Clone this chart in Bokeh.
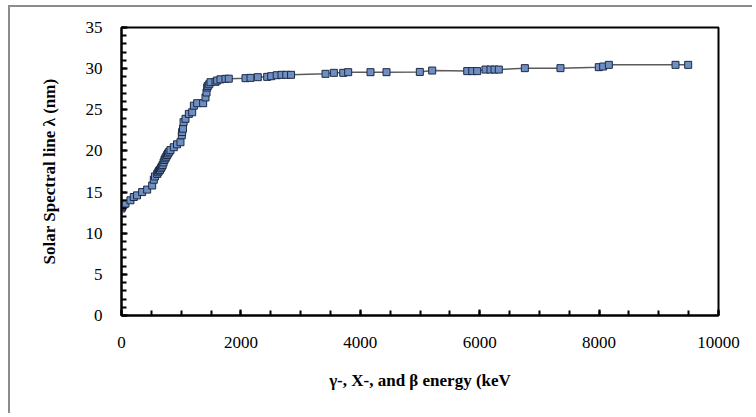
from bokeh.plotting import figure
from bokeh.models import Range1d, SingleIntervalTicker, ColumnDataSource
from bokeh.embed import file_html
from bokeh.resources import INLINE

# energy (keV)
energy = [0, 12, 40, 67, 150, 206, 260, 346, 430, 514, 541, 560, 598, 615, 630,
          645, 660, 675, 690, 705, 720, 735, 750, 765, 780, 800, 820, 876, 930,
          988, 1010, 1016, 1030, 1040, 1072, 1128, 1184, 1212, 1268, 1368, 1407,
          1424, 1435, 1445, 1470, 1491, 1575, 1603, 1658, 1742, 1797, 2077, 2161,
          2283, 2440, 2507, 2600, 2680, 2760, 2840, 3417, 3557, 3714, 3797, 4171,
          4439, 4997, 5204, 5791, 5875, 5958, 6097, 6181, 6248, 6320, 6756, 7353,
          7995, 8068, 8163, 9280, 9492]
# solar spectral line wavelength (nm)
wavelength = [13.0, 13.2, 13.5, 13.6, 14.0, 14.4, 14.6, 15.0, 15.3, 15.8, 16.5,
              16.9, 17.2, 17.4, 17.6, 17.7, 17.9, 18.1, 18.3, 18.6, 18.9, 19.1,
              19.3, 19.5, 19.7, 19.9, 20.1, 20.45, 20.8, 21.06, 21.9, 22.3, 22.7,
              23.5, 23.9, 24.5, 24.7, 25.5, 25.8, 25.8, 26.5, 27.1, 27.7, 27.9,
              28.1, 28.35, 28.4, 28.56, 28.7, 28.76, 28.78, 28.84, 28.88, 28.96,
              29.0, 29.08, 29.2, 29.25, 29.25, 29.25, 29.37, 29.49, 29.49, 29.57,
              29.57, 29.57, 29.6, 29.77, 29.7, 29.7, 29.7, 29.89, 29.89, 29.89,
              29.89, 30.06, 30.06, 30.18, 30.26, 30.46, 30.46, 30.46]

x_label = "γ-, X-, and β energy (keV"
y_label = "Solar Spectral line λ (nm)"

src = ColumnDataSource(data=dict(x=energy, y=wavelength))

p = figure(width=744, height=408, output_backend="svg", toolbar_location=None,
           x_range=Range1d(0, 10000), y_range=Range1d(0, 35),
           min_border_left=111, min_border_top=20, min_border_right=36,
           min_border_bottom=100,
           styles={"border-left": "2px solid #8c8c8c", "border-top": "2px solid #8c8c8c",
                   "margin-left": "8px", "margin-top": "5px"})

p.grid.visible = False
p.outline_line_color = "black"
p.outline_line_width = 2
p.background_fill_color = "white"
p.border_fill_color = "white"

p.line("x", "y", source=src, line_color="#5a5a5a", line_width=1.5)
p.scatter("x", "y", source=src, marker="square", size=7,
          fill_color="#6f8fc2", line_color="#1c2a44", line_width=1)

serif = "Liberation Serif"
p.xaxis.ticker = SingleIntervalTicker(interval=2000, num_minor_ticks=4)
p.yaxis.ticker = SingleIntervalTicker(interval=5, num_minor_ticks=5)

for ax in (p.xaxis[0], p.yaxis[0]):
    ax.axis_line_color = "black"
    ax.axis_line_width = 2
    ax.major_tick_in = 6
    ax.major_tick_out = 0
    ax.minor_tick_in = 5
    ax.minor_tick_out = 0
    ax.major_tick_line_width = 2
    ax.minor_tick_line_width = 2
    ax.major_tick_line_color = "black"
    ax.minor_tick_line_color = "black"
    ax.major_label_text_font = serif
    ax.major_label_text_font_size = "17px"
    ax.major_label_text_color = "black"
    ax.axis_label_text_font = serif
    ax.axis_label_text_font_style = "bold"
    ax.axis_label_text_font_size = "17px"
    ax.axis_label_text_color = "black"

p.xaxis.axis_label = x_label
p.yaxis.axis_label = y_label
p.xaxis.major_label_standoff = 21
p.yaxis.major_label_standoff = 19
p.xaxis.axis_label_standoff = 20
p.yaxis.axis_label_standoff = 24

open("out.html", "w").write(file_html(p, INLINE))
